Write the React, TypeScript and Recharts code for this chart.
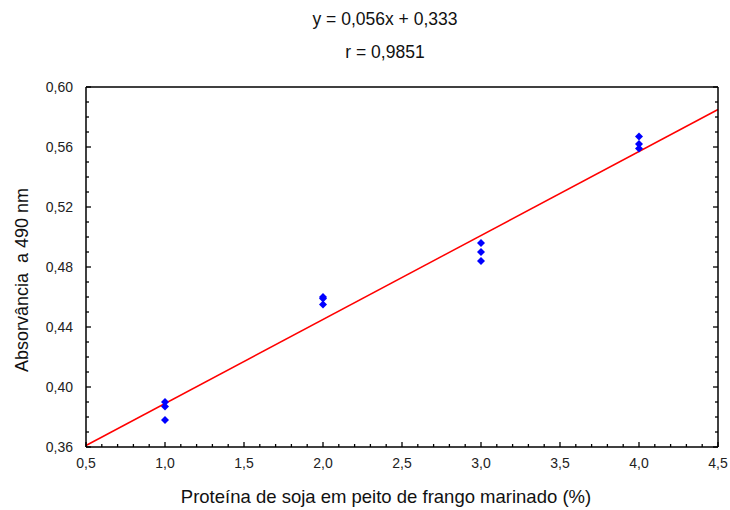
import React from 'react';
import {
  ScatterChart,
  Scatter,
  XAxis,
  YAxis,
  ReferenceLine,
} from 'recharts';

// concentração de proteína (%) e absorvância lida
const proteinX = [1, 1, 1, 2, 2, 2, 3, 3, 3, 4, 4, 4];
const absorbance = [0.390, 0.387, 0.378, 0.460, 0.459, 0.455, 0.496, 0.490, 0.484, 0.567, 0.562, 0.559];

// reta ajustada
const fitSlope = 0.056;
const fitIntercept = 0.333;
const fitX = [0.5, 4.5];

const xMajor = [0.5, 1.0, 1.5, 2.0, 2.5, 3.0, 3.5, 4.0, 4.5];
const yMajor = [0.36, 0.40, 0.44, 0.48, 0.52, 0.56, 0.60];

// subdivisões menores (0,1 em x e 0,01 em y)
const xTicks: number[] = [];
for (let i = 5; i <= 45; i++) xTicks.push(i / 10);
const yTicks: number[] = [];
for (let i = 36; i <= 60; i++) yTicks.push(i / 100);

const isMajor = (v: number, majors: number[]) => majors.some((m) => Math.abs(m - v) < 1e-6);

const FONT = '"Liberation Sans", Arial, sans-serif';
const MAJOR = 5;
const MINOR = 3;

const points = proteinX.map((x, i) => ({ x, y: absorbance[i] }));

const Diamond = (props: any) => {
  const { cx, cy } = props;
  const r = 4;
  return (
    <polygon
      points={`${cx},${cy - r} ${cx + r},${cy} ${cx},${cy + r} ${cx - r},${cy}`}
      fill="#0000ff"
    />
  );
};

const BottomTick = (props: any) => {
  const { x, y, payload } = props;
  const major = isMajor(payload.value, xMajor);
  return (
    <g>
      <line x1={x} x2={x} y1={y} y2={y - (major ? MAJOR : MINOR)} stroke="#000" strokeWidth={1.3} />
      {major && (
        <text x={x} y={y + 21} textAnchor="middle" fontSize={14} fontFamily={FONT} fill="#222">
          {payload.value.toFixed(1).replace('.', ',')}
        </text>
      )}
    </g>
  );
};

const TopTick = (props: any) => {
  const { x, y, payload } = props;
  const major = isMajor(payload.value, xMajor);
  return <line x1={x} x2={x} y1={y} y2={y + (major ? MAJOR : MINOR)} stroke="#000" strokeWidth={1.3} />;
};

const LeftTick = (props: any) => {
  const { x, y, payload } = props;
  const major = isMajor(payload.value, yMajor);
  return (
    <g>
      <line x1={x} x2={x + (major ? MAJOR : MINOR)} y1={y} y2={y} stroke="#000" strokeWidth={1.3} />
      {major && (
        <text x={x - 13} y={y} dy="0.35em" textAnchor="end" fontSize={14} fontFamily={FONT} fill="#222">
          {payload.value.toFixed(2).replace('.', ',')}
        </text>
      )}
    </g>
  );
};

const RightTick = (props: any) => {
  const { x, y, payload } = props;
  const major = isMajor(payload.value, yMajor);
  return <line x1={x} x2={x - (major ? MAJOR : MINOR)} y1={y} y2={y} stroke="#000" strokeWidth={1.3} />;
};

const textStyle: React.CSSProperties = {
  position: 'absolute',
  fontFamily: FONT,
  fontSize: 17.5,
  color: '#111',
  whiteSpace: 'nowrap',
  lineHeight: '20px',
};

export default function App() {
  const axisLine = { stroke: '#000', strokeWidth: 1.5 };
  return (
    <div style={{ position: 'fixed', left: 0, top: 0, width: 730, height: 510, background: '#fff' }}>
      <ScatterChart width={730} height={510} margin={{ top: 77, right: 2, bottom: 33, left: 26 }}>
        <XAxis
          type="number"
          dataKey="x"
          domain={[0.5, 4.5]}
          ticks={xTicks}
          interval={0}
          tickSize={0}
          tickMargin={0}
          tickLine={false}
          axisLine={axisLine}
          tick={<BottomTick />}
          height={30}
          allowDataOverflow
        />
        <XAxis
          xAxisId="top"
          orientation="top"
          type="number"
          domain={[0.5, 4.5]}
          ticks={xTicks}
          interval={0}
          tickSize={0}
          tickMargin={0}
          tickLine={false}
          axisLine={axisLine}
          tick={<TopTick />}
          height={10}
          allowDataOverflow
        />
        <YAxis
          type="number"
          dataKey="y"
          domain={[0.36, 0.6]}
          ticks={yTicks}
          interval={0}
          tickSize={0}
          tickMargin={0}
          tickLine={false}
          axisLine={axisLine}
          tick={<LeftTick />}
          width={60}
          allowDataOverflow
        />
        <YAxis
          yAxisId="right"
          orientation="right"
          type="number"
          domain={[0.36, 0.6]}
          ticks={yTicks}
          interval={0}
          tickSize={0}
          tickMargin={0}
          tickLine={false}
          axisLine={axisLine}
          tick={<RightTick />}
          width={10}
          allowDataOverflow
        />
        <ReferenceLine
          segment={fitX.map((x) => ({ x, y: fitSlope * x + fitIntercept }))}
          stroke="#ff0000"
          strokeWidth={1.5}
        />
        <Scatter data={points} shape={<Diamond />} isAnimationActive={false} />
      </ScatterChart>
      <div style={{ ...textStyle, left: 385, top: 19, transform: 'translate(-50%, -50%)' }}>
        y = 0,056x + 0,333
      </div>
      <div style={{ ...textStyle, left: 385, top: 52, transform: 'translate(-50%, -50%)' }}>
        r = 0,9851
      </div>
      <div style={{ ...textStyle, fontSize: 18, left: 22, top: 280, transform: 'translate(-50%, -50%) rotate(-90deg)' }}>
        Absorvância&nbsp; a 490 nm
      </div>
      <div style={{ ...textStyle, fontSize: 18.5, left: 386, top: 497, transform: 'translate(-50%, -50%)' }}>
        Proteína de soja em peito de frango marinado (%)
      </div>
    </div>
  );
}
